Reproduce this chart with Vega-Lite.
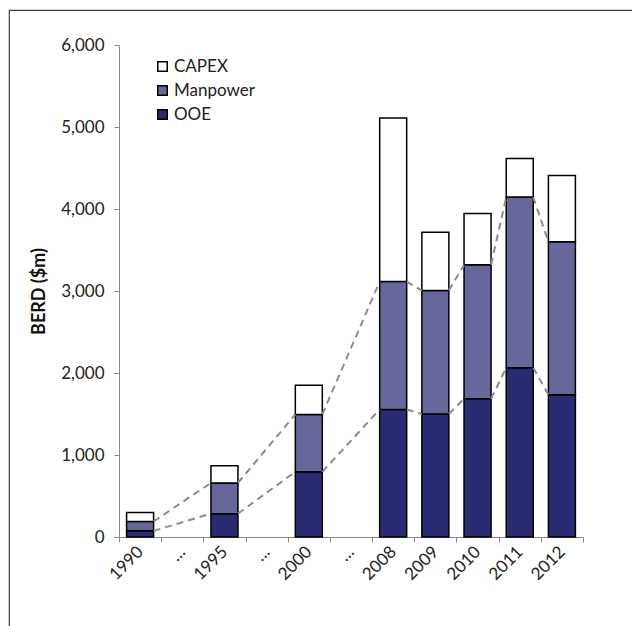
{
  "$schema": "https://vega.github.io/schema/vega-lite/v6.json",
  "width": 640,
  "height": 640,
  "autosize": {"type": "none"},
  "padding": {"left": 9, "top": 10, "right": 0, "bottom": 0},
  "background": "white",
  "config": {
    "view": {"stroke": "#404040", "strokeWidth": 1.2},
    "font": "Lato"
  },
  "datasets": {
    "bars": [
      {"year": "1990", "type": "OOE", "value": 75},
      {"year": "1990", "type": "Manpower", "value": 115},
      {"year": "1990", "type": "CAPEX", "value": 110},
      {"year": "1995", "type": "OOE", "value": 285},
      {"year": "1995", "type": "Manpower", "value": 375},
      {"year": "1995", "type": "CAPEX", "value": 210},
      {"year": "2000", "type": "OOE", "value": 795},
      {"year": "2000", "type": "Manpower", "value": 700},
      {"year": "2000", "type": "CAPEX", "value": 355},
      {"year": "2008", "type": "OOE", "value": 1555},
      {"year": "2008", "type": "Manpower", "value": 1560},
      {"year": "2008", "type": "CAPEX", "value": 1995},
      {"year": "2009", "type": "OOE", "value": 1500},
      {"year": "2009", "type": "Manpower", "value": 1505},
      {"year": "2009", "type": "CAPEX", "value": 710},
      {"year": "2010", "type": "OOE", "value": 1685},
      {"year": "2010", "type": "Manpower", "value": 1635},
      {"year": "2010", "type": "CAPEX", "value": 625},
      {"year": "2011", "type": "OOE", "value": 2065},
      {"year": "2011", "type": "Manpower", "value": 2080},
      {"year": "2011", "type": "CAPEX", "value": 470},
      {"year": "2012", "type": "OOE", "value": 1735},
      {"year": "2012", "type": "Manpower", "value": 1865},
      {"year": "2012", "type": "CAPEX", "value": 810}
    ],
    "links": [
      {"from": "1990", "to": "1995", "y_from": 75, "y_to": 285},
      {"from": "1995", "to": "2000", "y_from": 285, "y_to": 795},
      {"from": "2000", "to": "2008", "y_from": 795, "y_to": 1555},
      {"from": "2008", "to": "2009", "y_from": 1555, "y_to": 1500},
      {"from": "2009", "to": "2010", "y_from": 1500, "y_to": 1685},
      {"from": "2010", "to": "2011", "y_from": 1685, "y_to": 2065},
      {"from": "2011", "to": "2012", "y_from": 2065, "y_to": 1735},
      {"from": "1990", "to": "1995", "y_from": 190, "y_to": 660},
      {"from": "1995", "to": "2000", "y_from": 660, "y_to": 1495},
      {"from": "2000", "to": "2008", "y_from": 1495, "y_to": 3115},
      {"from": "2008", "to": "2009", "y_from": 3115, "y_to": 3005},
      {"from": "2009", "to": "2010", "y_from": 3005, "y_to": 3320},
      {"from": "2010", "to": "2011", "y_from": 3320, "y_to": 4145},
      {"from": "2011", "to": "2012", "y_from": 4145, "y_to": 3600}
    ]
  },
  "layer": [
    {
      "data": {"name": "bars"},
      "mark": {"type": "bar", "stroke": "black", "strokeWidth": 1.5, "width": {"band": 0.64}},
      "encoding": {
        "x": {
          "field": "year",
          "type": "nominal",
          "sort": null,
          "scale": {
            "domain": ["1990", "gap1", "1995", "gap2", "2000", "gap3", "2008", "2009", "2010", "2011", "2012"],
            "range": [110, 574],
            "paddingInner": 0,
            "paddingOuter": 0
          },
          "axis": {
            "title": null,
            "orient": "bottom",
            "offset": -113,
            "labelExpr": "indexof(datum.label, 'gap') == 0 ? '…' : datum.label",
            "labelAngle": -45,
            "labelAlign": "right",
            "labelBaseline": "middle",
            "labelFontSize": 17,
            "labelColor": "#222222",
            "labelPadding": 7,
            "tickBand": "extent",
            "tickSize": 5,
            "domainColor": "#868686",
            "tickColor": "#868686"
          }
        },
        "y": {
          "field": "value",
          "type": "quantitative",
          "stack": "zero",
          "scale": {"domain": [0, 6000], "range": [527, 35], "nice": false},
          "axis": {
            "title": "BERD ($m)",
            "orient": "left",
            "offset": -110,
            "values": [0, 1000, 2000, 3000, 4000, 5000, 6000],
            "format": ",d",
            "grid": false,
            "labelFontSize": 17,
            "labelColor": "#222222",
            "labelPadding": 10,
            "tickSize": 5,
            "titleFontSize": 18,
            "titleFontWeight": "bold",
            "titleColor": "#111111",
            "titlePadding": 12,
            "domainColor": "#868686",
            "tickColor": "#868686"
          }
        },
        "color": {
          "field": "type",
          "type": "nominal",
          "scale": {"domain": ["CAPEX", "Manpower", "OOE"], "range": ["#ffffff", "#67679b", "#2b2b73"]},
          "legend": {
            "title": null,
            "orient": "none",
            "legendX": 145,
            "legendY": 48,
            "padding": 0,
            "symbolType": "square",
            "symbolSize": 90,
            "symbolStrokeColor": "black",
            "symbolStrokeWidth": 1.5,
            "symbolOpacity": 1,
            "labelFontSize": 17,
            "labelColor": "#222222",
            "labelOffset": 3,
            "rowPadding": 6
          }
        },
        "order": {"field": "type", "sort": "descending"}
      }
    },
    {
      "data": {"name": "links"},
      "mark": {"type": "rule", "strokeDash": [7, 5], "color": "#8c8c8c", "strokeWidth": 2},
      "encoding": {
        "x": {"field": "from", "type": "nominal", "bandPosition": 0.82},
        "x2": {"field": "to", "bandPosition": 0.18},
        "y": {"field": "y_from", "type": "quantitative"},
        "y2": {"field": "y_to"}
      }
    }
  ]
}
